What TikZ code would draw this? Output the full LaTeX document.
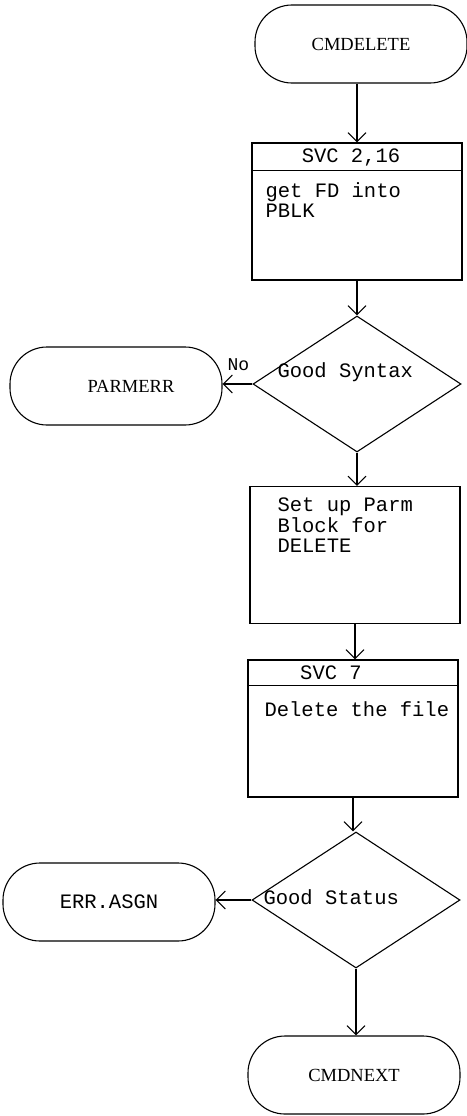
\documentclass[tikz,border=0pt]{standalone}
\usepackage{fontspec}
\setmainfont{Liberation Serif}
\setmonofont{Liberation Mono}
\usetikzlibrary{arrows.meta,shapes.geometric}
\begin{document}
\begin{tikzpicture}[x=1pt,y=-1pt, line width=1.1pt,
 term/.style={draw, rectangle, rounded corners=37pt, minimum width=212pt, minimum height=78pt, inner sep=0pt, font=\fontsize{18.5}{21}\selectfont},
 termtt/.style={term, font=\ttfamily\fontsize{20.5}{22}\selectfont},
 proc/.style={draw, rectangle, minimum width=210pt, minimum height=137pt, inner sep=0pt},
 dec/.style={draw, diamond, minimum width=208pt, minimum height=136pt, inner sep=0pt},
 txt/.style={font=\ttfamily\fontsize{20.5}{20.5}\selectfont, align=left, inner sep=0pt, anchor=base west},
 hdr/.style={font=\ttfamily\fontsize{20.5}{21}\selectfont, inner sep=0pt, anchor=base},
 arr/.style={-{Straight Barb[length=9pt,width=18pt]}}
]
\useasboundingbox (0,0) rectangle (466,1116);
% shapes
\node[term] (start) at (361,44) {CMDELETE};
\node[proc] (b1) at (357,211.5) {};
\node[dec] (d1) at (357,384) {};
\node[term] (perr) at (116,386) {\hspace*{30pt}PARMERR};
\node[proc] (b2) at (355,555) {};
\node[proc] (b3) at (353,728.5) {};
\node[dec] (d2) at (356,900) {};
\node[termtt] (easgn) at (109,902) {ERR.ASGN};
\node[term] (next) at (354,1075) {CMDNEXT};
% header lines
\draw ([yshift=-28pt]b1.north west) -- ([yshift=-28pt]b1.north east);
\draw ([yshift=-26pt]b3.north west) -- ([yshift=-26pt]b3.north east);
% texts
\node[hdr] (h1) at (351,162) {SVC 2,16};
\node[txt] (t1a) at (265,197) {get FD into};
\node[txt] (t1b) at (265,217) {PBLK};
\node[txt] (s1) at (277,377) {Good Syntax};
\node[txt] (t2a) at (277,511) {Set up Parm};
\node[txt] (t2b) at (277,532) {Block for};
\node[txt] (t2c) at (277,552) {DELETE};
\node[hdr] (h3) at (331,679) {SVC 7};
\node[txt] (t3) at (264,716) {Delete the file};
\node[txt] (s2) at (263,904) {Good Status};
\node[font=\ttfamily\fontsize{18}{20}\selectfont, inner sep=0pt, anchor=base west] (no) at (227,370) {No};
% connectors
\draw[arr] (b1.north |- start.south) -- (b1.north);
\draw[arr] (b1.south) -- (d1.north);
\draw[arr] (d1.west) -- (d1.west -| perr.east);
\draw[arr] (d1.south) -- (d1.south |- b2.north);
\draw[arr] (b2.south) -- (b2.south |- b3.north);
\draw[arr] (b3.south) -- (b3.south |- d2.north);
\draw[arr] (d2.west) -- (d2.west -| easgn.east);
\draw[arr] (d2.south) -- (d2.south |- next.north);
\end{tikzpicture}
\end{document}
